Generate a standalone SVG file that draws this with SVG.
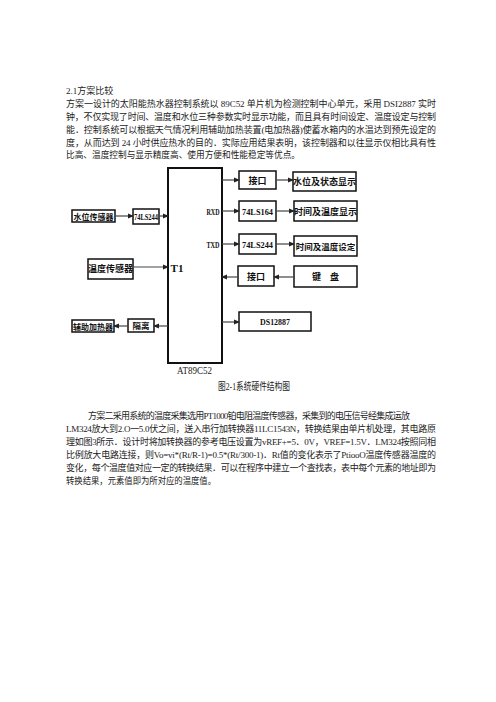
<svg xmlns="http://www.w3.org/2000/svg" width="496" height="702" viewBox="0 0 496 702">
<style>
.t{font-family:"Liberation Serif","Noto Sans CJK SC",serif;font-size:9px;fill:#222}
.b{fill:#fff;stroke:#111;stroke-width:1.5}
.m{fill:#fff;stroke:#111;stroke-width:2}
.l{font-family:"Liberation Serif","Noto Sans CJK SC",serif;font-size:9px;font-weight:bold;fill:#111;text-anchor:middle}
.c line{stroke:#444;stroke-width:1.2;marker-end:url(#a)}
</style>
<defs>
<marker id="a" markerWidth="6" markerHeight="6" refX="5" refY="3" orient="auto" markerUnits="userSpaceOnUse">
<path d="M0,0.5 L6,3 L0,5.5 z" fill="#222"/>
</marker>
</defs>
<rect width="496" height="702" fill="#fff"/>
<g id="para1">
<text class="t" x="66" y="94">2.1方案比较</text>
<text class="t" x="66" y="107" textLength="370" lengthAdjust="spacing">方案一设计的太阳能热水器控制系统以 89C52 单片机为检测控制中心单元，采用 DSI2887 实时</text>
<text class="t" x="66" y="120" textLength="370" lengthAdjust="spacing">钟，不仅实现了时间、温度和水位三种参数实时显示功能，而且具有时间设定、温度设定与控制</text>
<text class="t" x="66" y="133" textLength="370" lengthAdjust="spacing">能．控制系统可以根据天气情况利用辅助加热装置(电加热器)使蓄水箱内的水温达到预先设定的</text>
<text class="t" x="66" y="146" textLength="370" lengthAdjust="spacing">度，从而达到 24 小时供应热水的目的．实际应用结果表明，该控制器和以往显示仪相比具有性</text>
<text class="t" x="66" y="158" textLength="234" lengthAdjust="spacingAndGlyphs">比高、温度控制与显示精度高、使用方便和性能稳定等优点。</text>
</g>
<g id="mcu"><rect class="m" x="168" y="168" width="54" height="195"/>
<text class="l" x="213" y="215" textLength="13" lengthAdjust="spacingAndGlyphs">RXD</text>
<text class="l" x="213" y="248" textLength="13" lengthAdjust="spacingAndGlyphs">TXD</text>
<text class="l" x="177" y="272" style="font-size:11px">T1</text>
</g>
<g id="sw"><rect class="b" x="72" y="210" width="43" height="12"/><text class="l" x="93.5" y="219.5" style="font-size:8px">水位传感器</text></g>
<g id="ls244a"><rect class="b" x="133" y="209" width="26" height="15"/><text class="l" x="146" y="220" textLength="24" lengthAdjust="spacingAndGlyphs">74LS244</text></g>
<g id="wd"><rect class="b" x="88" y="259" width="45" height="20"/><text class="l" x="110.5" y="272">温度传感器</text></g>
<g id="fz"><rect class="b" x="72" y="320" width="42" height="12"/><text class="l" x="93" y="329.5" style="font-size:8px">辅助加热器</text></g>
<g id="gl"><rect class="b" x="128" y="319" width="26" height="13"/><text class="l" x="141" y="329" style="font-size:8.5px">隔离</text></g>
<g id="jk1"><rect class="b" x="239" y="171" width="37" height="18"/><text class="l" x="257.5" y="183.5">接口</text></g>
<g id="swxs"><rect class="b" x="293" y="172" width="63" height="19"/><text class="l" x="324.5" y="185">水位及状态显示</text></g>
<g id="ls164"><rect class="b" x="239" y="201" width="37" height="20"/><text class="l" x="257.5" y="214.5" textLength="31" lengthAdjust="spacingAndGlyphs">74LS164</text></g>
<g id="sjxs"><rect class="b" x="294" y="201" width="63" height="20"/><text class="l" x="325.5" y="214.5">时间及温度显示</text></g>
<g id="ls244b"><rect class="b" x="239" y="234" width="37" height="20"/><text class="l" x="257.5" y="247.5" textLength="31" lengthAdjust="spacingAndGlyphs">74LS244</text></g>
<g id="sjsd"><rect class="b" x="294" y="236" width="63" height="20"/><text class="l" x="325.5" y="249.5" style="font-size:8.5px">时间及温度设定</text></g>
<g id="jk2"><rect class="b" x="238" y="266" width="36" height="20"/><text class="l" x="256" y="279.5">接口</text></g>
<g id="jp"><rect class="b" x="294" y="266" width="63" height="21"/><text class="l" x="325.5" y="280">键　盘</text></g>
<g id="ds"><rect class="b" x="239" y="312" width="72" height="19"/><text class="l" x="275" y="325" textLength="30" lengthAdjust="spacingAndGlyphs">DS12887</text></g>
<g class="c" id="connectors">
<line x1="115" y1="216" x2="133" y2="216"/>
<line x1="159" y1="216" x2="168" y2="216"/>
<line x1="133" y1="267" x2="168" y2="267"/>
<line x1="168" y1="326" x2="154" y2="326"/>
<line x1="128" y1="326" x2="114" y2="326"/>
<line x1="222" y1="180" x2="239" y2="180"/>
<line x1="276" y1="180" x2="293" y2="180"/>
<line x1="222" y1="211" x2="239" y2="211"/>
<line x1="276" y1="211" x2="294" y2="211"/>
<line x1="222" y1="244" x2="239" y2="244"/>
<line x1="276" y1="244" x2="294" y2="244"/>
<line x1="294" y1="277" x2="274" y2="277"/>
<line x1="238" y1="277" x2="222" y2="277"/>
<line x1="222" y1="322" x2="239" y2="322"/>
</g>
<text class="t" x="177" y="374" style="font-size:10px" textLength="35" lengthAdjust="spacingAndGlyphs">AT89C52</text>
<text class="t" x="218" y="390" style="font-size:10px" textLength="72" lengthAdjust="spacingAndGlyphs">图2-1系统硬件结构图</text>
<g id="para2">
<text class="t" x="88" y="419" textLength="322" lengthAdjust="spacing">方案二采用系统的温度采集选用PT1000铂电阻温度传感器，采集到的电压信号经集成运放</text>
<text class="t" x="66" y="432" textLength="370" lengthAdjust="spacing">LM324放大到2.O一5.0伏之间，送入串行加转换器11LC1543N，转换结果由单片机处理，其电路原</text>
<text class="t" x="66" y="445" textLength="370" lengthAdjust="spacing">理如图3所示．设计时将加转换器的参考电压设置为vREF+=5．0V，VREF=1.5V．LM324按照同相</text>
<text class="t" x="66" y="458" textLength="370" lengthAdjust="spacing">比例放大电路连接，则Vo=vi*(Rt/R-1)=0.5*(Rt/300-1)．Rt值的变化表示了PtiooO温度传感器温度的</text>
<text class="t" x="66" y="471" textLength="370" lengthAdjust="spacing">变化，每个温度值对应一定的转换结果．可以在程序中建立一个查找表，表中每个元素的地址即为</text>
<text class="t" x="66" y="484" textLength="150" lengthAdjust="spacingAndGlyphs">转换结果，元素值即为所对应的温度值。</text>
</g>
</svg>
